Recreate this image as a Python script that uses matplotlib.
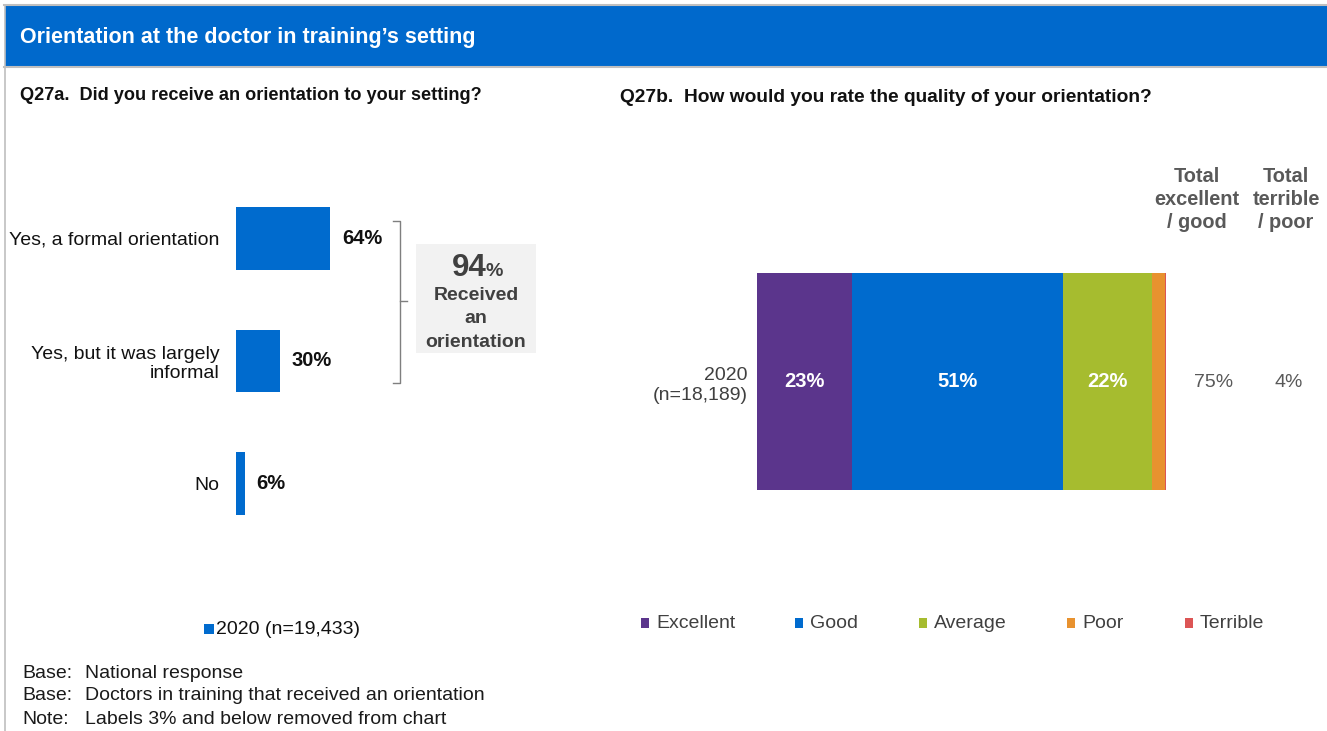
import matplotlib
matplotlib.use("Agg")
import matplotlib.pyplot as plt
from matplotlib.patches import Rectangle
from matplotlib.lines import Line2D

plt.rcParams['font.family'] = ['Liberation Sans', 'DejaVu Sans']

W, H = 1327, 731

# Q27a data
q27a_cats = ["Yes, a formal orientation", "Yes, but it was largely\ninformal", "No"]
q27a_vals = [64, 30, 6]
q27a_series = "2020 (n=19,433)"
received_total = 94

# Q27b data
q27b_row = "2020\n(n=18,189)"
q27b_cats = ["Excellent", "Good", "Average", "Poor", "Terrible"]
q27b_vals = [23.3, 51.4, 21.8, 3.2, 0.3]
q27b_labels = [23, 51, 22, 3, 0]
q27b_totals = [75, 4]
total_heads = ["Total\nexcellent\n/ good", "Total\nterrible\n/ poor"]

blue = "#006BCE"
colors = ["#5B358C", "#006BCE", "#A6BC2F", "#E8922F", "#DC5555"]
dark = "#404040"
fs = 14


def fx(x):
    return x / W


def fy(y):
    return 1 - y / H


fig = plt.figure(figsize=(W / 100, H / 100), dpi=100)

# header band and frame
fig.patches.append(Rectangle((fx(5), fy(66)), fx(W - 5), 60 / H, transform=fig.transFigure,
                             facecolor="#0069CC", edgecolor="none"))
fig.lines.append(Line2D([fx(4), 1], [fy(5), fy(5)], transform=fig.transFigure, color="#BFBFBF", lw=1.5))
fig.lines.append(Line2D([fx(4), 1], [fy(67), fy(67)], transform=fig.transFigure, color="#BFBFBF", lw=1.5))
fig.lines.append(Line2D([fx(4.5), fx(4.5)], [fy(5), 0], transform=fig.transFigure, color="#BFBFBF", lw=1.2))
fig.text(fx(20), fy(37), "Orientation at the doctor in training\u2019s setting", color="white",
         fontsize=15.5, fontweight="bold", va="center", ha="left")

fig.text(fx(20), fy(95), "Q27a.  Did you receive an orientation to your setting?",
         fontsize=13.1, fontweight="bold", va="center", color="#111111")
fig.text(fx(620), fy(98), "Q27b.  How would you rate the quality of your orientation?",
         fontsize=13.8, fontweight="bold", va="center", color="#111111")

# ---- Q27a horizontal bars
ax1 = fig.add_axes([fx(236), fy(545), 147 / W, 368 / H])
ypos = list(range(len(q27a_cats)))
ax1.barh(ypos, q27a_vals, height=0.51, color=blue)
for i, v in zip(ypos, q27a_vals):
    ax1.text(v + 8, i, f"{v}%", fontsize=14.5, fontweight="bold", va="center", ha="left", color="#111111")
ax1.set_xlim(0, 100)
ax1.set_ylim(2.5, -0.5)
ax1.set_yticks(ypos)
ax1.set_yticklabels(q27a_cats, fontsize=fs, color="#111111", linespacing=1.17)
ax1.tick_params(axis="y", length=0, pad=12)
ax1.set_xticks([])
for s in ax1.spines.values():
    s.set_visible(False)

# bracket
bx = fx(400)
fig.lines.append(Line2D([fx(393), bx, bx, fx(393)], [fy(221), fy(221), fy(383), fy(383)],
                        transform=fig.transFigure, color="#7F7F7F", lw=1))
fig.lines.append(Line2D([bx, fx(407)], [fy(301), fy(301)], transform=fig.transFigure, color="#7F7F7F", lw=1))
fig.patches.append(Rectangle((fx(416), fy(353)), 120 / W, 109 / H, transform=fig.transFigure,
                             facecolor="#F2F2F2", edgecolor="none"))
fig.text(fx(487), fy(276), f"{received_total}", fontsize=22.5, fontweight="bold", color=dark,
         ha="right", va="baseline")
fig.text(fx(486), fy(276), "%", fontsize=14, fontweight="bold", color=dark, ha="left", va="baseline")
fig.text(fx(476), fy(319), "Received\nan\norientation", fontsize=14, fontweight="bold", color=dark,
         ha="center", va="center", linespacing=1.5)

# legend left
fig.patches.append(Rectangle((fx(204), fy(634)), 10 / W, 10 / H, transform=fig.transFigure,
                             facecolor=blue, edgecolor="none"))
fig.text(fx(216), fy(629), q27a_series, fontsize=fs, va="center", color="#111111")

# ---- Q27b stacked bar
ax2 = fig.add_axes([fx(757), fy(490), 409 / W, 217 / H])
left = 0
for v, lab, c in zip(q27b_vals, q27b_labels, colors):
    ax2.barh(0, v, left=left, height=1, color=c)
    if lab > 3:
        ax2.text(left + v / 2, 0, f"{lab}%", color="white", fontsize=14.5, fontweight="bold",
                 ha="center", va="center")
    left += v
ax2.set_xlim(0, sum(q27b_vals))
ax2.set_ylim(-0.5, 0.5)
ax2.set_yticks([0])
ax2.set_yticklabels([q27b_row], fontsize=fs, color=dark, linespacing=1.3)
ax2.tick_params(axis="y", length=0, pad=6.5)
ax2.set_xticks([])
for s in ax2.spines.values():
    s.set_visible(False)

for xc, head in zip([1197, 1286], total_heads):
    fig.text(fx(xc), fy(167), head, fontsize=14.4, fontweight="bold", color="#595959",
             ha="center", va="top", linespacing=1.28)
for xc, tot in zip([1214, 1289], q27b_totals):
    fig.text(fx(xc), fy(383), f"{tot}%", fontsize=fs, color="#595959", ha="center", va="center")

# legend right
leg_x = [641, 795, 919, 1067, 1185]
for lx, name, c in zip(leg_x, q27b_cats, colors):
    fig.patches.append(Rectangle((fx(lx), fy(628)), 8 / W, 10 / H, transform=fig.transFigure,
                                 facecolor=c, edgecolor="none"))
    fig.text(fx(lx + 15), fy(623), name, fontsize=fs, va="center", color=dark)

# footnotes
notes = [("Base:", "National response"),
         ("Base:", "Doctors in training that received an orientation"),
         ("Note:", "Labels 3% and below removed from chart")]
for k, (a, b) in enumerate(notes):
    yy = 673 + k * 23
    fig.text(fx(22), fy(yy), a, fontsize=fs, va="center", color="#1a1a1a")
    fig.text(fx(85), fy(yy), b, fontsize=fs, va="center", color="#1a1a1a")

fig.savefig("out.png", dpi=100)
